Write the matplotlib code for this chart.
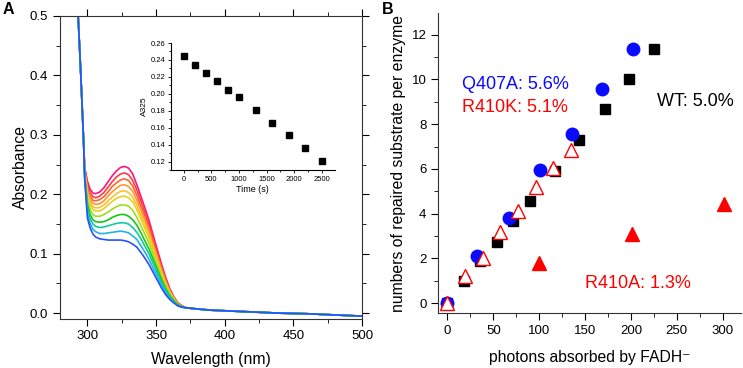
import numpy as np
import matplotlib
matplotlib.use("Agg")
import matplotlib.pyplot as plt
from matplotlib.ticker import MultipleLocator

plt.rcParams['font.family'] = ['Liberation Sans', 'DejaVu Sans']

# ---- panel A: spectra (one curve per time point) ----
# shared steep part below 298 nm and flat tail above 370 nm
wl_head = [292.5, 295, 297]
abs_head = [0.536, 0.41, 0.30]
wl_tail = [372, 376, 380, 390, 400, 420, 440, 460, 480, 500]
abs_tail = [0.009, 0.008, 0.007, 0.005, 0.004, 0.002, 0.000, -0.001, -0.003, -0.005]

wl_mid = [298, 300, 302, 304, 306, 309, 312, 315, 318, 321, 324, 327, 330,
          333, 336, 339, 342, 345, 348, 351, 354, 357, 360, 363, 366, 369]

spectra = [
    [0.245, 0.222, 0.208, 0.202, 0.201, 0.204, 0.211, 0.221, 0.231, 0.239, 0.245, 0.247, 0.244,
     0.234, 0.216, 0.196, 0.176, 0.155, 0.130, 0.106, 0.082, 0.060, 0.041, 0.027, 0.017, 0.012],
    [0.243, 0.216, 0.202, 0.196, 0.194, 0.197, 0.203, 0.212, 0.221, 0.229, 0.234, 0.236, 0.233,
     0.223, 0.207, 0.188, 0.168, 0.148, 0.124, 0.101, 0.078, 0.057, 0.039, 0.026, 0.017, 0.012],
    [0.242, 0.211, 0.197, 0.190, 0.189, 0.191, 0.196, 0.204, 0.213, 0.219, 0.224, 0.226, 0.223,
     0.214, 0.198, 0.180, 0.162, 0.142, 0.119, 0.097, 0.075, 0.055, 0.038, 0.025, 0.016, 0.012],
    [0.240, 0.207, 0.192, 0.185, 0.183, 0.184, 0.189, 0.197, 0.204, 0.210, 0.215, 0.216, 0.213,
     0.205, 0.190, 0.173, 0.155, 0.137, 0.115, 0.093, 0.072, 0.053, 0.037, 0.025, 0.016, 0.011],
    [0.238, 0.202, 0.187, 0.179, 0.177, 0.178, 0.182, 0.189, 0.195, 0.201, 0.205, 0.206, 0.203,
     0.195, 0.181, 0.165, 0.148, 0.131, 0.110, 0.089, 0.069, 0.050, 0.035, 0.024, 0.015, 0.011],
    [0.237, 0.197, 0.182, 0.174, 0.172, 0.172, 0.176, 0.182, 0.188, 0.193, 0.196, 0.197, 0.194,
     0.187, 0.174, 0.158, 0.142, 0.125, 0.105, 0.086, 0.066, 0.048, 0.034, 0.023, 0.015, 0.011],
    [0.235, 0.190, 0.174, 0.166, 0.163, 0.163, 0.166, 0.170, 0.175, 0.179, 0.182, 0.182, 0.180,
     0.173, 0.161, 0.147, 0.132, 0.117, 0.098, 0.079, 0.061, 0.045, 0.032, 0.022, 0.014, 0.011],
    [0.232, 0.182, 0.166, 0.157, 0.154, 0.153, 0.154, 0.157, 0.161, 0.164, 0.166, 0.166, 0.163,
     0.157, 0.148, 0.135, 0.121, 0.107, 0.090, 0.073, 0.056, 0.041, 0.029, 0.021, 0.014, 0.011],
    [0.230, 0.175, 0.159, 0.150, 0.146, 0.144, 0.145, 0.147, 0.149, 0.151, 0.152, 0.152, 0.150,
     0.144, 0.136, 0.125, 0.112, 0.099, 0.083, 0.067, 0.052, 0.038, 0.027, 0.019, 0.013, 0.010],
    [0.227, 0.167, 0.151, 0.141, 0.137, 0.134, 0.134, 0.135, 0.136, 0.137, 0.138, 0.137, 0.135,
     0.130, 0.124, 0.113, 0.102, 0.090, 0.075, 0.061, 0.047, 0.034, 0.025, 0.018, 0.013, 0.010],
    [0.225, 0.160, 0.143, 0.133, 0.128, 0.125, 0.124, 0.123, 0.123, 0.123, 0.123, 0.122, 0.120,
     0.116, 0.111, 0.102, 0.092, 0.081, 0.068, 0.055, 0.042, 0.031, 0.023, 0.017, 0.012, 0.010],
]
spec_colors = ['#ff1480', '#ff3c3c', '#ff6428', '#ff9632', '#ffbe32', '#e6d21e',
               '#a0dc1e', '#14c814', '#14c8a0', '#1eb4e6', '#2850ff']

# inset: A325 vs time
time_s = [0, 200, 400, 600, 800, 1000, 1300, 1600, 1900, 2200, 2500]
a325 = [0.245, 0.234, 0.224, 0.215, 0.205, 0.196, 0.181, 0.165, 0.151, 0.136, 0.121]

# ---- panel B: repaired substrate vs photons ----
wt_x = [0, 18.5, 35.6, 53.8, 71.9, 90.1, 117.3, 143.8, 171.8, 198.3, 225.2]
wt_y = [0, 1.0, 1.9, 2.75, 3.68, 4.58, 5.92, 7.28, 8.67, 10.02, 11.34]
q407a_x = [0, 32.7, 67.6, 101, 135.5, 168.8, 202.6]
q407a_y = [0, 2.12, 3.79, 5.95, 7.58, 9.56, 11.37]
r410k_x = [0, 19.3, 38.5, 57.4, 76.7, 96.3, 114.8, 134.4]
r410k_y = [0, 1.22, 2.04, 3.19, 4.13, 5.17, 6.05, 6.84]
r410a_x = [100.2, 200.8, 301.4]
r410a_y = [1.78, 3.08, 4.43]

W, H = 743, 368
fig = plt.figure(figsize=(W / 100, H / 100), dpi=100)

def box(l, t, r, b):
    return [l / W, 1 - b / H, (r - l) / W, (b - t) / H]

# panel A
axA = fig.add_axes(box(60, 16, 362, 318.5))
for ys, c in zip(spectra, spec_colors):
    axA.plot(wl_head + wl_mid + wl_tail, abs_head + ys + abs_tail, color=c, lw=1.2)
axA.set_xlim(280, 500)
axA.set_ylim(-0.009, 0.5)
axA.xaxis.set_major_locator(MultipleLocator(50))
axA.xaxis.set_minor_locator(MultipleLocator(25))
axA.yaxis.set_major_locator(MultipleLocator(0.1))
axA.yaxis.set_minor_locator(MultipleLocator(0.05))
axA.tick_params(which='both', direction='out', top=True, right=True, labelsize=9.5)
axA.tick_params(which='major', length=5)
axA.tick_params(which='minor', length=3)
axA.set_xlabel('Wavelength (nm)', fontsize=11.3, labelpad=7)
axA.set_ylabel('Absorbance', fontsize=11.3, labelpad=1)
for s in axA.spines.values():
    s.set_color('#333333')

ins = fig.add_axes(box(170.6, 43, 335, 170))
ins.plot(time_s, a325, 's', color='black', ms=3.8)
ins.set_xlim(-240, 2740)
ins.set_ylim(0.11, 0.26)
ins.xaxis.set_major_locator(MultipleLocator(500))
ins.xaxis.set_minor_locator(MultipleLocator(250))
ins.yaxis.set_major_locator(MultipleLocator(0.02))
ins.yaxis.set_minor_locator(MultipleLocator(0.01))
ins.yaxis.set_major_formatter(plt.FormatStrFormatter('%.2f'))
ins.spines['top'].set_visible(False)
ins.spines['right'].set_visible(False)
ins.tick_params(which='both', direction='out', labelsize=5.5, width=0.6)
ins.tick_params(which='major', length=2.5, pad=1.5)
ins.tick_params(which='minor', length=1.5)
ins.set_xlabel('Time (s)', fontsize=6.5, labelpad=2)
ins.set_ylabel('A325', fontsize=6, labelpad=2)

# panel B
axB = fig.add_axes(box(438.3, 13.3, 741, 313.3))
axB.plot(wt_x, wt_y, 's', color='black', ms=7.5, ls='none')
axB.plot(q407a_x, q407a_y, 'o', color='#0a0aff', ms=9, ls='none')
axB.plot(r410k_x, r410k_y, '^', mfc='white', mec='red', mew=1.0, ms=9.5, ls='none')
axB.plot(r410a_x, r410a_y, '^', color='red', ms=9.5, ls='none')
axB.set_xlim(-10, 320)
axB.set_ylim(-0.45, 12.95)
axB.xaxis.set_major_locator(MultipleLocator(50))
axB.xaxis.set_minor_locator(MultipleLocator(25))
axB.yaxis.set_major_locator(MultipleLocator(2))
axB.yaxis.set_minor_locator(MultipleLocator(1))
axB.spines['top'].set_visible(False)
axB.spines['right'].set_visible(False)
for s in axB.spines.values():
    s.set_color('#333333')
axB.tick_params(which='both', direction='out', labelsize=9.5)
axB.tick_params(which='major', length=5)
axB.tick_params(which='minor', length=3)
axB.set_xlabel('photons absorbed by FADH\u207b', fontsize=11.3, labelpad=9)
axB.set_ylabel('numbers of repaired substrate per enzyme', fontsize=11.3, labelpad=4)

axB.text(461.7 / W, 1 - 84.3 / H, 'Q407A: 5.6%', color='#0a0aff', fontsize=13,
         transform=fig.transFigure, va='center')
axB.text(461.7 / W, 1 - 107 / H, 'R410K: 5.1%', color='red', fontsize=13,
         transform=fig.transFigure, va='center')
axB.text(657.3 / W, 1 - 101.7 / H, 'WT: 5.0%', color='black', fontsize=13,
         transform=fig.transFigure, va='center')
axB.text(585 / W, 1 - 283.3 / H, 'R410A: 1.3%', color='red', fontsize=13,
         transform=fig.transFigure, va='center')

fig.text(3 / W, 1 - 10 / H, 'A', fontsize=11.5, fontweight='bold', va='center')
fig.text(382 / W, 1 - 10 / H, 'B', fontsize=11.5, fontweight='bold', va='center')

fig.savefig('out.png', dpi=100)
